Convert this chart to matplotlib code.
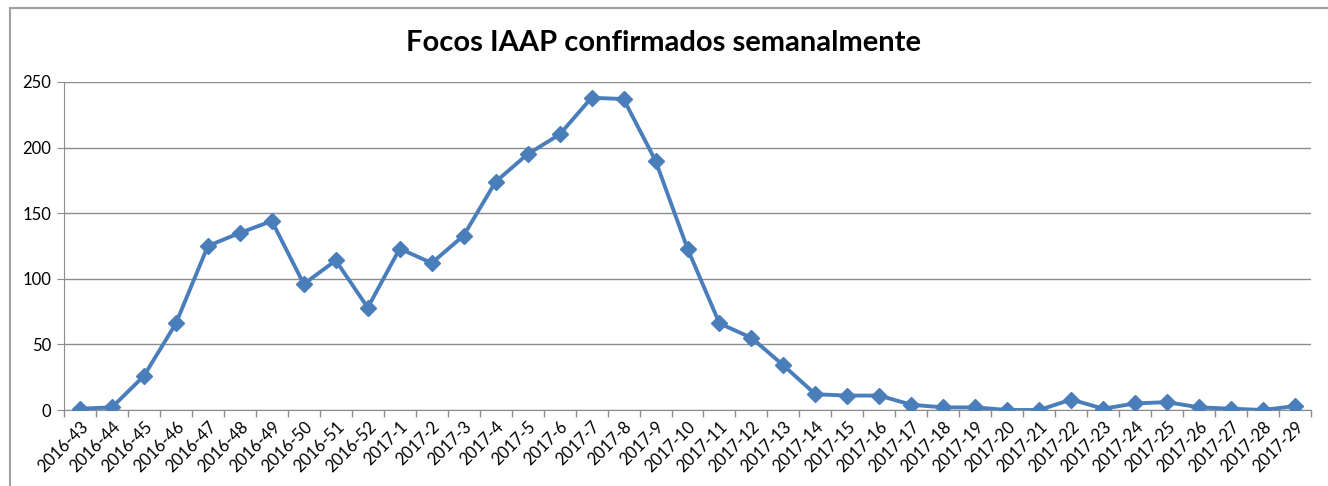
import matplotlib.pyplot as plt
from matplotlib.lines import Line2D
import numpy as np

# weekly confirmed IAAP outbreaks
weeks = ["2016-43", "2016-44", "2016-45", "2016-46", "2016-47", "2016-48",
         "2016-49", "2016-50", "2016-51", "2016-52"] + \
        ["2017-%d" % w for w in range(1, 30)]
focos = [1, 2, 26, 66, 125, 135, 144, 96, 114, 78,
         123, 112, 133, 174, 195, 210, 238, 237, 190, 123,
         66, 55, 34, 12, 11, 11, 4, 2, 2, 0,
         0, 8, 1, 5, 6, 2, 1, 0, 3]

plt.rcParams['font.family'] = ['Lato', 'DejaVu Sans']

fig = plt.figure(figsize=(13.28, 4.86), dpi=100)
ax = fig.add_axes([64 / 1328, 1 - 410 / 486, (1311 - 64) / 1328, (410 - 82) / 486])

x = np.arange(len(weeks))
ax.plot(x, focos, color='#4A7EBB', lw=2.8, marker='D', ms=8,
        markerfacecolor='#4A7EBB', markeredgecolor='#4A7EBB', zorder=3)

ax.set_xlim(-0.5, len(weeks) - 0.5)
ax.set_ylim(0, 250)
ax.set_yticks(range(0, 251, 50))
ax.yaxis.grid(True, color='#8C8C8C', lw=1)
ax.set_axisbelow(True)

ax.set_xticks(x)
ax.set_xticklabels(weeks, rotation=45, ha='right', rotation_mode='anchor', fontsize=12)
ax.tick_params(axis='x', length=0, pad=6)
ax.set_xticks(np.arange(-0.5, len(weeks), 1), minor=True)
ax.tick_params(axis='x', which='minor', length=5, color='#8C8C8C', width=1)
ax.tick_params(axis='y', length=5, color='#8C8C8C', labelsize=12, pad=4)

for s in ['top', 'right']:
    ax.spines[s].set_visible(False)
for s in ['left', 'bottom']:
    ax.spines[s].set_color('#8C8C8C')

fig.text(0.5, 1 - 43 / 486, 'Focos IAAP confirmados semanalmente',
         ha='center', va='center', fontsize=21, fontweight='bold')

# chart frame
fig.add_artist(Line2D([10 / 1328, 1], [1 - 8 / 486, 1 - 8 / 486], color='#A0A0A0', lw=1.5))
fig.add_artist(Line2D([10 / 1328, 10 / 1328], [0, 1 - 8 / 486], color='#A0A0A0', lw=1.5))

fig.savefig('out.png', dpi=100)
